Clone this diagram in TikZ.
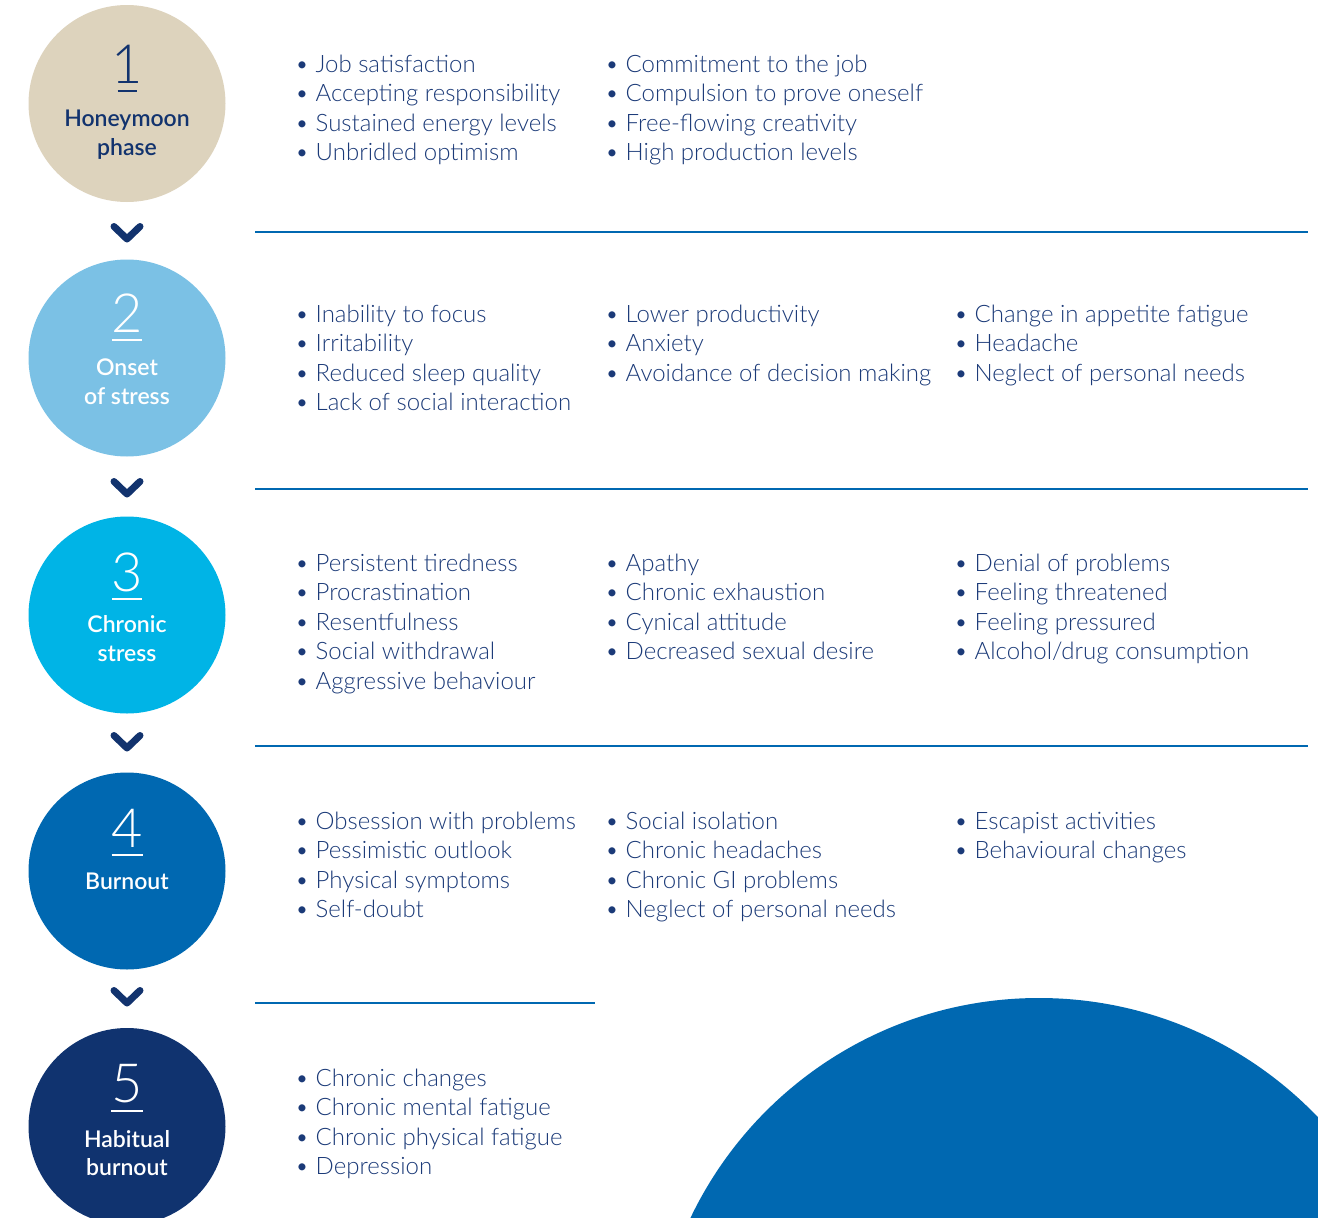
\documentclass[tikz,border=0pt]{standalone}
\usepackage{fontspec}
\usetikzlibrary{calc}
\newfontfamily\listfont{Lato Light}
\newfontfamily\labelfont{Lato Semibold}
\definecolor{navy}{HTML}{12336E}
\definecolor{itemtxt}{HTML}{1B3A78}
\definecolor{rulec}{HTML}{0068B1}
\definecolor{sand}{HTML}{DDD3BD}
\definecolor{sky}{HTML}{7BC1E5}
\definecolor{cyanb}{HTML}{00B4E6}
\definecolor{midblue}{HTML}{0068B1}
\definecolor{deepblue}{HTML}{10336F}

\newcommand\itemcol[4]{%
  \foreach \t [count=\i] in {#4} {
    \node[listitem] (#1-\i) at (#2, {#3+(\i-1)*29.5}) {\makebox[20.5pt][l]{\textbullet}\t};
  }%
}

\begin{document}
\begin{tikzpicture}[x=1pt,y=-1pt,
  phase/.style={circle, minimum size=197pt, inner sep=0pt},
  numtxt/.style={anchor=base, inner sep=0pt, font=\listfont\fontsize{54}{54}\selectfont},
  lbltxt/.style={anchor=base, inner sep=0pt, font=\labelfont\fontsize{23}{23}\selectfont},
  listitem/.style={anchor=base west, inner sep=0pt, text=itemtxt, font=\listfont\fontsize{24}{24}\selectfont},
  chev/.style={draw=navy, line width=7pt, line cap=round, line join=round},
  sep/.style={draw=rulec, line width=1.3pt},
  ul/.style={line width=2pt}]
\useasboundingbox (0,0) rectangle (1318,1218);
\begin{scope}
\clip (0,0) rectangle (1318,1218);
% large decorative disc in the lower right corner
\fill[midblue] (1039,1384) circle[radius=386];

% phase discs
\node[phase, fill=sand]     (c1) at (127,103.5) {};
\node[phase, fill=sky]      (c2) at (127,358) {};
\node[phase, fill=cyanb]    (c3) at (127,615) {};
\node[phase, fill=midblue]  (c4) at (127,871) {};
\node[phase, fill=deepblue] (c5) at (127,1126.5) {};
\end{scope}

% numbers, underlines and titles
\node[numtxt, text=navy] (n1) at (127,83) {1};
\draw[ul, navy] ($(n1.base)+(-9.5,7.5)$) -- ($(n1.base)+(9.5,7.5)$);
\node[lbltxt, text=navy] (t1a) at (127,126) {Honeymoon};
\node[lbltxt, text=navy] (t1b) at (127,155) {phase};

\node[numtxt, text=white] (n2) at (127,332) {2};
\draw[ul, white] ($(n2.base)+(-15,7.5)$) -- ($(n2.base)+(15,7.5)$);
\node[lbltxt, text=white] (t2a) at (127,375) {Onset};
\node[lbltxt, text=white] (t2b) at (127,404) {of stress};

\node[numtxt, text=white] (n3) at (127,591) {3};
\draw[ul, white] ($(n3.base)+(-15,7.5)$) -- ($(n3.base)+(15,7.5)$);
\node[lbltxt, text=white] (t3a) at (127,632) {Chronic};
\node[lbltxt, text=white] (t3b) at (127,661) {stress};

\node[numtxt, text=white] (n4) at (127,847) {4};
\draw[ul, white] ($(n4.base)+(-15.5,7.5)$) -- ($(n4.base)+(15.5,7.5)$);
\node[lbltxt, text=white] (t4a) at (127,889) {Burnout};

\node[numtxt, text=white] (n5) at (127,1102) {5};
\draw[ul, white] ($(n5.base)+(-16,8.5)$) -- ($(n5.base)+(16,8.5)$);
\node[lbltxt, text=white] (t5a) at (127,1147) {Habitual};
\node[lbltxt, text=white] (t5b) at (127,1175) {burnout};

% chevrons between the phases
\foreach \y/\nm in {232/k1,487/k2,741/k3,996/k4}{
  \coordinate (\nm) at (127,\y);
  \draw[chev] ($(\nm)+(-13,-5.5)$) -- ($(\nm)+(0,7)$) -- ($(\nm)+(13,-5.5)$);
}

% separator rules
\coordinate (r1a) at (255,232);  \coordinate (r1b) at (1308,232);
\coordinate (r2a) at (255,489);  \coordinate (r2b) at (1308,489);
\coordinate (r3a) at (255,746);  \coordinate (r3b) at (1308,746);
\coordinate (r4a) at (255,1003); \coordinate (r4b) at (595,1003);
\draw[sep] (r1a) -- (r1b);
\draw[sep] (r2a) -- (r2b);
\draw[sep] (r3a) -- (r3b);
\draw[sep] (r4a) -- (r4b);

% symptom lists
\itemcol{a1}{295}{72}{Job satisfaction,Accepting responsibility,Sustained energy levels,Unbridled optimism}
\itemcol{a2}{605}{72}{Commitment to the job,Compulsion to prove oneself,Free-flowing creativity,High production levels}

\itemcol{b1}{295}{322}{Inability to focus,Irritability,Reduced sleep quality,Lack of social interaction}
\itemcol{b2}{605}{322}{Lower productivity,Anxiety,Avoidance of decision making}
\itemcol{b3}{954}{322}{Change in appetite fatigue,Headache,Neglect of personal needs}

\itemcol{d1}{295}{571}{Persistent tiredness,Procrastination,Resentfulness,Social withdrawal,Aggressive behaviour}
\itemcol{d2}{605}{571}{Apathy,Chronic exhaustion,Cynical attitude,Decreased sexual desire}
\itemcol{d3}{954}{571}{Denial of problems,Feeling threatened,Feeling pressured,Alcohol/drug consumption}

\itemcol{e1}{295}{829}{Obsession with problems,Pessimistic outlook,Physical symptoms,Self-doubt}
\itemcol{e2}{605}{829}{Social isolation,Chronic headaches,Chronic GI problems,Neglect of personal needs}
\itemcol{e3}{954}{829}{Escapist activities,Behavioural changes}

\itemcol{f1}{295}{1086}{Chronic changes,Chronic mental fatigue,Chronic physical fatigue,Depression}
\end{tikzpicture}
\end{document}
